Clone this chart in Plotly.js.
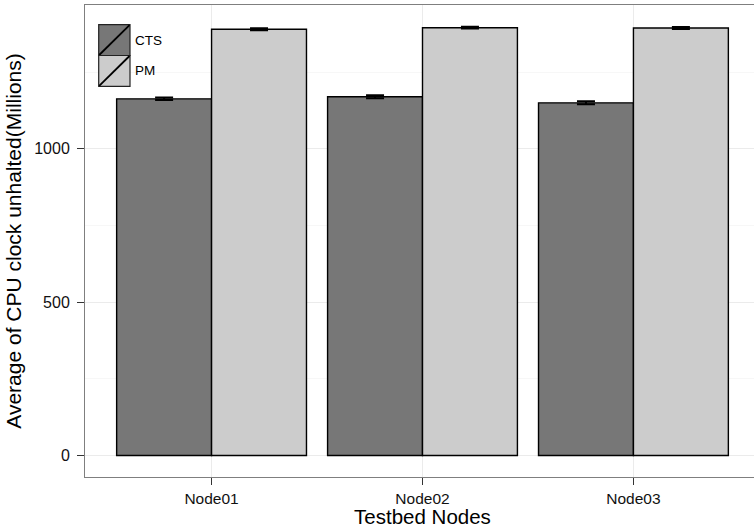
<!DOCTYPE html>
<html>
<head>
<meta charset="utf-8">
<script src="https://cdn.plot.ly/plotly-3.0.1.min.js"></script>
<style>
html,body{margin:0;padding:0;overflow:hidden;background:#fff;}
#chart{width:762px;height:528px;}
</style>
</head>
<body>
<div id="chart"></div>
<script>
// ---- data ----
const nodes = ['Node01', 'Node02', 'Node03'];
const seriesNames = ['CTS', 'PM'];
const ctsValues = [1163, 1170, 1150];
const ctsErrors = [4, 5, 5];
const pmValues = [1390, 1395, 1394];
const pmErrors = [3, 3, 3];
const yTickVals = [0, 500, 1000];
const yTickText = ['0', '500', '1000'];

// ---- styling ----
const colors = ['#777777', '#CCCCCC'];
const FONT = 'Liberation Sans, Arial, Helvetica, sans-serif';
const W = 762, H = 528;
const M = {l: 85, r: 2, t: 5, b: 51};
const plotW = W - M.l - M.r, plotH = H - M.t - M.b;
const px = p => (p - M.l) / plotW;
const py = p => (H - M.b - p) / plotH;

function barTrace(name, vals, errs, color) {
  return {
    type: 'bar', name: name, x: nodes, y: vals,
    marker: {color: color, line: {color: '#000', width: 1.4}},
    error_y: {type: 'data', array: errs, visible: true, color: '#000', thickness: 2, width: 9},
    showlegend: false, hoverinfo: 'x+y'
  };
}

const data = [
  barTrace(seriesNames[0], ctsValues, ctsErrors, colors[0]),
  barTrace(seriesNames[1], pmValues, pmErrors, colors[1])
];

// legend drawn manually (ggplot style keys with diagonal slash)
const shapes = [{
  type: 'rect', xref: 'paper', yref: 'paper', layer: 'below',
  x0: px(91), x1: px(170), y0: py(93), y1: py(17),
  fillcolor: '#fff', line: {width: 0}
}];
const annotations = [];
const keyTop = [24.7, 55.5];
const keyH = 30.8;
seriesNames.forEach((name, i) => {
  const y0 = keyTop[i], y1 = keyTop[i] + keyH;
  shapes.push({type: 'rect', xref: 'paper', yref: 'paper',
    x0: px(98.7), x1: px(130), y0: py(y1), y1: py(y0),
    fillcolor: colors[i], line: {color: '#222', width: 1.2}});
  shapes.push({type: 'line', xref: 'paper', yref: 'paper',
    x0: px(99.2), x1: px(129.5), y0: py(y1 - 0.5), y1: py(y0 + 0.5),
    line: {color: '#000', width: 1.8}});
  annotations.push({xref: 'paper', yref: 'paper', x: px(132.5), y: py((y0 + y1) / 2),
    xanchor: 'left', yanchor: 'middle', showarrow: false, text: name,
    font: {family: FONT, size: 13.5, color: '#000'}});
});

const layout = {
  width: W, height: H,
  margin: M,
  paper_bgcolor: '#fff', plot_bgcolor: '#fff',
  font: {family: FONT, color: '#000'},
  barmode: 'group', bargap: 0.1, bargroupgap: 0,
  showlegend: false,
  xaxis: {
    type: 'category', range: [-0.6, 2.6],
    showgrid: true, gridcolor: '#EBEBEB', gridwidth: 1,
    showline: true, mirror: true, linecolor: '#7F7F7F', linewidth: 1,
    ticks: 'outside', ticklen: 7, tickcolor: '#333', tickwidth: 1,
    ticklabelstandoff: 0,
    tickfont: {family: FONT, size: 15.5, color: '#111'},
    title: {text: 'Testbed Nodes', font: {family: FONT, size: 20.5, color: '#000'}, standoff: 5},
    zeroline: false, automargin: false
  },
  yaxis: {
    range: [-70, 1469],
    tickvals: yTickVals, ticktext: yTickText,
    showgrid: true, gridcolor: '#EBEBEB', gridwidth: 1,
    minor: {dtick: 250, showgrid: true, gridcolor: '#F7F7F7', gridwidth: 1, ticks: ''},
    showline: true, mirror: true, linecolor: '#7F7F7F', linewidth: 1,
    ticks: 'outside', ticklen: 7, tickcolor: '#333', tickwidth: 1,
    ticklabelstandoff: 4,
    tickfont: {family: FONT, size: 16, color: '#111'},
    title: {text: 'Average of CPU clock unhalted(Millions)', font: {family: FONT, size: 21, color: '#000'}, standoff: 6},
    zeroline: false, automargin: false
  },
  shapes: shapes,
  annotations: annotations
};

Plotly.newPlot('chart', data, layout, {displayModeBar: false, responsive: false, staticPlot: true});
</script>
</body>
</html>
